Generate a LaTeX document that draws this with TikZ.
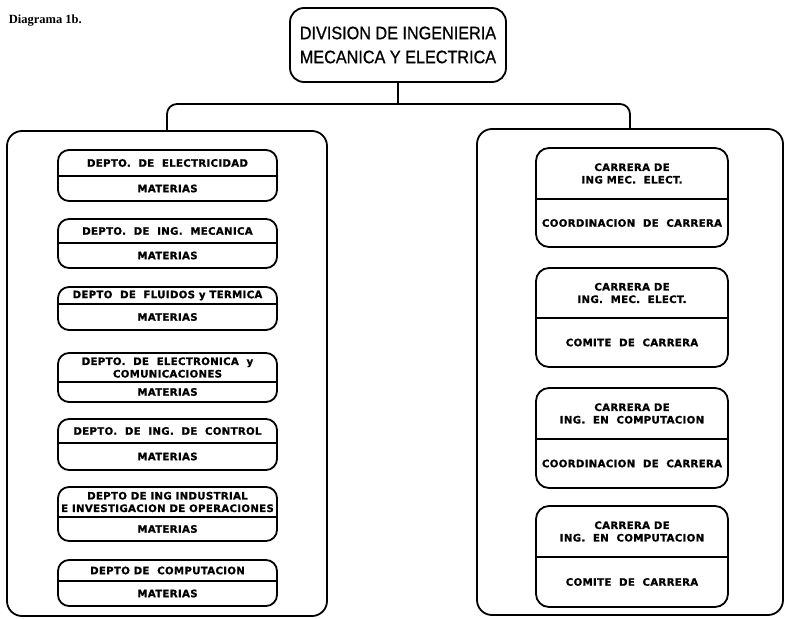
\documentclass[tikz,border=0pt]{standalone}
\usepackage{fontspec}
\setmainfont{Liberation Sans}
\newfontfamily\heavyfont{DejaVu Sans}[LetterSpace=3,FakeBold=1]
\newfontfamily\captionfont{Liberation Serif}
\newfontfamily\headfont{Liberation Sans}[FakeStretch=0.9,FakeBold=0.8]
\newcommand\leftdept[6]{%
  \node[ibox, minimum width=219pt, minimum height={#4-#2}] (#1) at (167.5,{(#2+#4)/2}) {};
  \draw (#1.west |- 0,#3) -- (#1.east |- 0,#3);
  \node[lbl] (#1t) at (167.5,{(#2+#3)/2}) {#5};
  \node[lbl] (#1b) at (167.5,{(#3+#4)/2}) {#6};
}
\newcommand\rightcar[6]{%
  \node[ibox, rounded corners=13pt, minimum width=192pt, minimum height={#4-#2}] (#1) at (632,{(#2+#4)/2}) {};
  \draw (#1.west |- 0,#3) -- (#1.east |- 0,#3);
  \node[lbl] (#1t) at (632,{(#2+#3)/2}) {#5};
  \node[lbl] (#1b) at (632,{(#3+#4)/2}) {#6};
}
\begin{document}
\begin{tikzpicture}[x=1pt,y=-1pt,line width=1.8pt,
  big/.style={draw, rounded corners=15pt, inner sep=0pt},
  ibox/.style={draw, rounded corners=11pt, inner sep=0pt},
  lbl/.style={font=\heavyfont\bfseries\fontsize{10.2}{12.5}\selectfont, align=center, inner sep=0pt},
  topfont/.style={font=\headfont\fontsize{18}{24}\selectfont, align=center, inner sep=0pt}]
\useasboundingbox (0,0) rectangle (786,618);
\node[font=\captionfont\bfseries\fontsize{12.5}{14}\selectfont, anchor=west, inner sep=0pt] (cap) at (8,21) {Diagrama 1b.};
% top box
\node[draw, rounded corners=14pt, minimum width=216pt, minimum height=74pt, inner sep=0pt] (top) at (398,45) {};
\node[topfont] (toptext) at (398,45) {DIVISION DE INGENIERIA\\MECANICA Y ELECTRICA};
% big boxes
\node[big, minimum width=320pt, minimum height=485pt] (L) at (167,373.5) {};
\node[big, minimum width=306pt, minimum height=486pt] (R) at (630,372) {};
% connectors
\coordinate (bar) at (398,104);
\draw (top.south) -- (bar);
\draw[rounded corners=10pt] (L.north) |- (bar) -| (R.north);
% left departments
\leftdept{d1}{150}{176}{201}{DEPTO. \ DE \ ELECTRICIDAD}{MATERIAS}
\leftdept{d2}{219}{243}{268}{DEPTO. \ DE \ ING. \ MECANICA}{MATERIAS}
\leftdept{d3}{287}{304}{330}{DEPTO \ DE \ FLUIDOS y TERMICA}{MATERIAS}
\leftdept{d4}{353}{382}{402}{DEPTO. \ DE \ ELECTRONICA \ y\\COMUNICACIONES}{MATERIAS}
\leftdept{d5}{419}{443}{470}{DEPTO. \ DE \ ING. \ DE \ CONTROL}{MATERIAS}
\leftdept{d6}{487}{517}{541}{DEPTO DE ING INDUSTRIAL\\E INVESTIGACION DE OPERACIONES}{MATERIAS}
\leftdept{d7}{560}{581}{606}{DEPTO DE \ COMPUTACION}{MATERIAS}
% right careers
\rightcar{c1}{148}{199}{247}{CARRERA DE\\ING MEC. \ ELECT.}{COORDINACION \ DE \ CARRERA}
\rightcar{c2}{268}{318}{367}{CARRERA DE\\ING. \ MEC. \ ELECT.}{COMITE \ DE \ CARRERA}
\rightcar{c3}{388}{439}{488}{CARRERA DE\\ING. \ EN \ COMPUTACION}{COORDINACION \ DE \ CARRERA}
\rightcar{c4}{506}{557}{607}{CARRERA DE\\ING. \ EN \ COMPUTACION}{COMITE \ DE \ CARRERA}
\end{tikzpicture}
\end{document}
